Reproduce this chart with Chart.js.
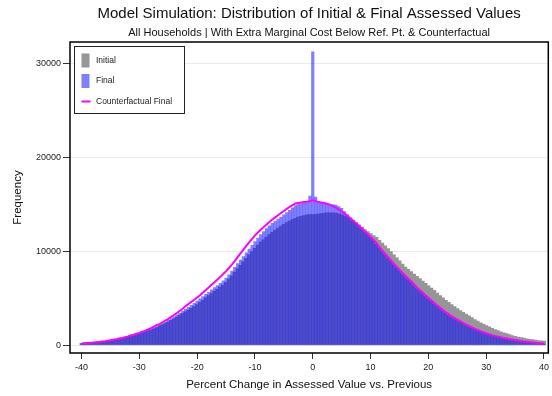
<!DOCTYPE html>
<html>
<head>
<meta charset="utf-8">
<script src="https://cdn.jsdelivr.net/npm/chart.js@4.4.1/dist/chart.umd.min.js"></script>
<style>
  html, body { margin: 0; padding: 0; background: #fff; }
  #wrap { width: 552px; height: 396px; }
</style>
</head>
<body>
<div id="wrap"><canvas id="histChart" width="552" height="396"></canvas></div>
<script>
// Bins of 0.5 points, centred from -40 to 40
const binStart = -40;
const binWidth = 0.5;

const initialCounts = [
  150, 170, 190, 215, 240, 270, 300, 335, 370, 415, 460, 510, 560, 620, 680, 750, 820, 900, 980, 1060, 1150,
  1250, 1360, 1470, 1580, 1710, 1840, 1980, 2120, 2270, 2430, 2600, 2780, 2960, 3150, 3330, 3520, 3700, 3880, 4080, 4300,
  4520, 4750, 5000, 5250, 5470, 5700, 5920, 6150, 6380, 6650, 7000, 7350, 7720, 8100, 8480, 8850, 9230, 9600, 9950, 10300,
  10630, 10950, 11230, 11500, 11760, 12000, 12230, 12450, 12660, 12850, 13030, 13200, 13360, 13500, 13610, 13700, 13780, 13850, 13880, 13900,
  13920, 13950, 14000, 14050, 14070, 14080, 14070, 14050, 13960, 13850, 13730, 13600, 13430, 13250, 13030, 12800, 12550, 12300, 12070, 11850,
  11650, 11450, 11150, 10850, 10550, 10250, 9930, 9600, 9280, 8950, 8620, 8300, 8050, 7800, 7550, 7300, 7050, 6800, 6550, 6300,
  6050, 5800, 5520, 5250, 5000, 4750, 4520, 4300, 4070, 3850, 3650, 3450, 3270, 3100, 2900, 2700, 2520, 2350, 2200, 2050,
  1900, 1750, 1620, 1500, 1390, 1280, 1180, 1080, 990, 900, 830, 760, 700, 640, 590, 540, 490, 450, 410, 380
];

const finalCounts = [
  160, 180, 200, 225, 250, 280, 310, 350, 390, 435, 480, 535, 590, 655, 720, 795, 870, 955, 1040, 1135, 1230,
  1340, 1450, 1575, 1700, 1840, 1980, 2140, 2300, 2475, 2650, 2840, 3030, 3230, 3430, 3630, 3830, 4040, 4250, 4470, 4700,
  4950, 5200, 5420, 5650, 5900, 6150, 6370, 6600, 6870, 7150, 7520, 7900, 8300, 8700, 9070, 9450, 9850, 10250, 10650, 11050,
  11430, 11800, 12130, 12450, 12730, 13000, 13230, 13450, 13680, 13900, 14150, 14400, 14650, 14900, 15000, 15100, 15180, 15250, 15900, 31300,
  15800, 15300, 15220, 15150, 15100, 15050, 15000, 14950, 14800, 14600, 14250, 13900, 13600, 13300, 13000, 12700, 12400, 12100, 11800, 11500,
  11150, 10800, 10400, 10000, 9650, 9300, 8950, 8600, 8270, 7950, 7620, 7300, 7000, 6700, 6370, 6050, 5770, 5500, 5220, 4950,
  4670, 4400, 4150, 3900, 3650, 3420, 3200, 3000, 2820, 2650, 2470, 2300, 2140, 1980, 1840, 1700, 1570, 1450, 1340, 1230,
  1130, 1040, 960, 880, 810, 740, 680, 620, 560, 510, 460, 420, 380, 340, 300, 270, 240, 210, 180, 150
];

const counterfactualCounts = [
  170, 190, 210, 235, 260, 295, 330, 370, 410, 460, 510, 565, 620, 690, 760, 840, 920, 1010, 1100, 1200, 1300,
  1410, 1530, 1660, 1800, 1950, 2140, 2230, 2430, 2610, 2800, 3000, 3200, 3420, 3650, 3870, 4150, 4380, 4600, 4830, 5070,
  5320, 5600, 5880, 6150, 6430, 6700, 6980, 7270, 7570, 7880, 8220, 8580, 8960, 9380, 9780, 10180, 10570, 10960, 11330, 11700,
  12000, 12300, 12580, 12850, 13130, 13400, 13620, 13850, 14080, 14300, 14530, 14750, 14930, 15100, 15150, 15200, 15250, 15300, 15350, 15450,
  15350, 15250, 15200, 15150, 15050, 14950, 14800, 14650, 14450, 14250, 14030, 13800, 13530, 13250, 12980, 12700, 12430, 12150, 11850, 11550,
  11230, 10900, 10500, 10100, 9750, 9400, 9050, 8700, 8370, 8050, 7720, 7400, 7100, 6800, 6480, 6150, 5880, 5600, 5320, 5050,
  4780, 4500, 4250, 4000, 3750, 3500, 3290, 3080, 2900, 2720, 2540, 2360, 2190, 2030, 1880, 1740, 1610, 1480, 1370, 1260,
  1160, 1060, 980, 900, 830, 760, 700, 640, 585, 530, 480, 430, 390, 350, 315, 280, 250, 220, 190, 160
];

const xTicks = [-40, -30, -20, -10, 0, 10, 20, 30, 40];
const yTicks = [0, 10000, 20000, 30000];

const binCenters = initialCounts.map((_, i) => binStart + i * binWidth);
const toPoints = arr => arr.map((v, i) => ({ x: binCenters[i], y: v }));

const fontFamily = '"Liberation Sans", Arial, Helvetica, sans-serif';
Chart.defaults.font.family = fontFamily;

// black box round the plot region
const framePlugin = {
  id: 'frame',
  afterDraw(chart) {
    const { ctx, chartArea: a } = chart;
    ctx.save();
    ctx.strokeStyle = '#000';
    ctx.lineWidth = 1.5;
    ctx.strokeRect(a.left, a.top, a.right - a.left, a.bottom - a.top);
    ctx.restore();
  }
};

// legend inside the plot, top left
const legendBox = {
  id: 'legendBox',
  afterDraw(chart) {
    const { ctx, chartArea: a } = chart;
    const x = a.left + 4.5, y = a.top + 4.5, w = 110, h = 67;
    ctx.save();
    ctx.fillStyle = '#fff';
    ctx.fillRect(x, y, w, h);
    ctx.strokeStyle = '#222';
    ctx.lineWidth = 1;
    ctx.strokeRect(x, y, w, h);
    ctx.font = '8.5px ' + fontFamily;
    ctx.textBaseline = 'middle';
    chart.data.datasets.forEach((ds, i) => {
      const cy = y + 14 + i * 20.5;
      if (ds.type === 'line') {
        ctx.strokeStyle = ds.borderColor;
        ctx.lineWidth = 2;
        ctx.beginPath();
        ctx.moveTo(x + 7, cy);
        ctx.lineTo(x + 16, cy);
        ctx.stroke();
      } else {
        ctx.fillStyle = ds.backgroundColor;
        ctx.fillRect(x + 7, cy - 7, 8, 14);
      }
      ctx.fillStyle = '#222';
      ctx.fillText(ds.label, x + 21.5, cy);
    });
    ctx.restore();
  }
};

new Chart(document.getElementById('histChart'), {
  type: 'bar',
  data: {
    datasets: [
      {
        label: 'Initial',
        data: toPoints(initialCounts),
        backgroundColor: 'rgb(150,150,150)',
        borderWidth: 0,
        grouped: false,
        barPercentage: 1,
        categoryPercentage: 1,
        inflateAmount: 0.6,
        order: 3
      },
      {
        label: 'Final',
        data: toPoints(finalCounts),
        backgroundColor: 'rgba(0,0,255,0.5)',
        borderWidth: 0,
        grouped: false,
        barPercentage: 1,
        categoryPercentage: 1,
        inflateAmount: 0.15,
        order: 2
      },
      {
        type: 'line',
        label: 'Counterfactual Final',
        data: toPoints(counterfactualCounts),
        borderColor: '#ff00ff',
        borderWidth: 2,
        pointRadius: 0,
        tension: 0,
        fill: false,
        order: 1
      }
    ]
  },
  options: {
    responsive: false,
    animation: false,
    devicePixelRatio: 1,
    layout: { padding: { left: 0, right: 2, top: 0, bottom: 0 } },
    scales: {
      x: {
        type: 'linear',
        min: -42,
        max: 40.75,
        offset: false,
        afterBuildTicks: s => { s.ticks = xTicks.map(v => ({ value: v })); },
        afterFit: s => { s.height = 43; },
        border: { display: false },
        grid: { offset: false, drawOnChartArea: false, tickColor: '#333', tickLength: 6 },
        ticks: { color: '#222', font: { size: 9 }, padding: 3, maxRotation: 0, autoSkip: false, callback: v => String(v) },
        title: {
          display: true,
          text: 'Percent Change in Assessed Value vs. Previous',
          color: '#111',
          font: { size: 11.5 },
          padding: { top: 0, bottom: 4.4 }
        }
      },
      y: {
        min: -850,
        max: 32330,
        afterBuildTicks: s => { s.ticks = yTicks.map(v => ({ value: v })); },
        afterFit: s => { s.width = 70; },
        border: { display: false },
        grid: { offset: false, color: '#ebebeb', tickColor: '#333', tickLength: 7 },
        ticks: { color: '#222', font: { size: 9 }, padding: 2, callback: v => String(v) },
        title: {
          display: true,
          text: 'Frequency',
          color: '#111',
          font: { size: 11.5 },
          padding: { top: 11, bottom: 0 }
        }
      }
    },
    plugins: {
      legend: { display: false },
      tooltip: { enabled: false },
      title: {
        display: true,
        fullSize: false,
        text: 'Model Simulation: Distribution of Initial & Final Assessed Values',
        color: '#111',
        font: { size: 15, weight: 'normal' },
        padding: { top: 5, bottom: 3.4 }
      },
      subtitle: {
        display: true,
        fullSize: false,
        text: 'All Households | With Extra Marginal Cost Below Ref. Pt. & Counterfactual',
        color: '#111',
        font: { size: 11 },
        padding: { top: 0, bottom: 2.4 }
      }
    }
  },
  plugins: [framePlugin, legendBox]
});
</script>
</body>
</html>
